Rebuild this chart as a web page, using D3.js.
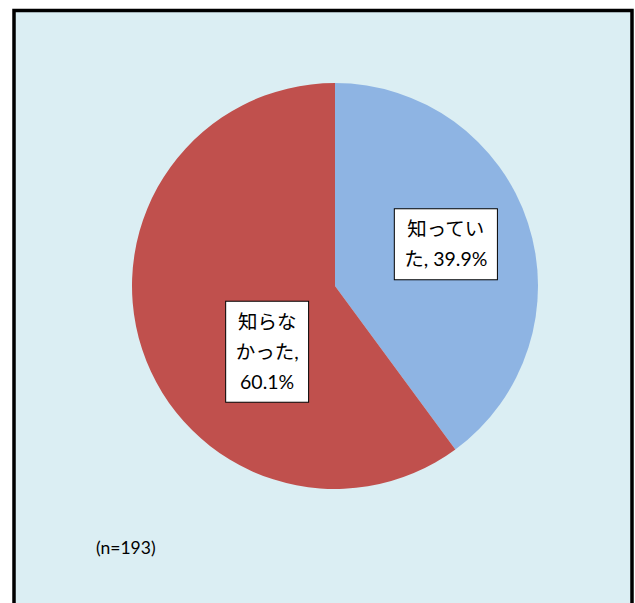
<!DOCTYPE html>
<html>
<head>
<meta charset="utf-8">
<script src="https://cdn.jsdelivr.net/npm/d3@7"></script>
<style>
  html, body { margin: 0; padding: 0; background: #ffffff; }
  svg { display: block; }
</style>
</head>
<body>
<svg id="chart" width="635" height="603"></svg>
<script>
// Survey answers: did the respondent know?
const categories = ["知っていた", "知らなかった"];
const values = [39.9, 60.1];
const labelLines = [
  ["知ってい", "た, 39.9%"],
  ["知らな", "かった,", "60.1%"]
];
const colors = ["#8EB4E3", "#C0504D"];
const sampleNote = "(n=193)";

const W = 635, H = 603;
const svg = d3.select("#chart");

// chart area with light-blue fill and thick black frame
svg.append("rect")
  .attr("x", 14).attr("y", 10.5)
  .attr("width", 618).attr("height", 620)
  .attr("fill", "#DBEEF3")
  .attr("stroke", "#000").attr("stroke-width", 3.5);

const cx = 335, cy = 286, R = 203;
const g = svg.append("g").attr("transform", `translate(${cx},${cy})`);

const pie = d3.pie().sort(null).value(d => d.value);
const arcs = pie(categories.map((c, i) => ({ name: c, value: values[i], i })));
const arc = d3.arc().innerRadius(0).outerRadius(R);

g.selectAll("path.slice")
  .data(arcs)
  .join("path")
  .attr("class", "slice")
  .attr("d", arc)
  .attr("fill", d => colors[d.data.i]);

// data labels: placed around the slice centroid, then shifted inwards like the "best fit" layout
const labelArc = d3.arc().innerRadius(R * 0.58).outerRadius(R * 0.58);
const labelShift = [[-1, -5], [44, 29]];
const fontFamily = "Lato, 'Noto Sans CJK JP', sans-serif";
const fontSize = 19.5, lineH = 30;

arcs.forEach((a, k) => {
  const [mx, my] = labelArc.centroid(a);
  const px = mx + labelShift[k][0], py = my + labelShift[k][1];
  const lab = g.append("g").attr("transform", `translate(${px},${py})`);
  const box = lab.append("rect").attr("fill", "#fff").attr("stroke", "#000").attr("stroke-width", 1);
  const lines = labelLines[k];
  const txt = lab.append("text")
    .attr("font-family", fontFamily)
    .attr("font-size", fontSize)
    .attr("fill", "#000")
    .attr("text-anchor", "middle");
  lines.forEach((ln, j) => {
    txt.append("tspan")
      .attr("x", 0)
      .attr("y", (j - (lines.length - 1) / 2) * lineH)
      .attr("dy", "0.35em")
      .text(ln);
  });
  const bb = txt.node().getBBox();
  const padX = 10;
  const boxH = lines.length * lineH + 11;
  box.attr("x", bb.x - padX).attr("y", -boxH / 2)
     .attr("width", bb.width + padX * 2).attr("height", boxH);
});

svg.append("text")
  .attr("x", 96).attr("y", 548)
  .attr("dy", "0.35em")
  .attr("font-family", fontFamily)
  .attr("font-size", 17.5)
  .attr("fill", "#000")
  .text(sampleNote);
</script>
</body>
</html>
